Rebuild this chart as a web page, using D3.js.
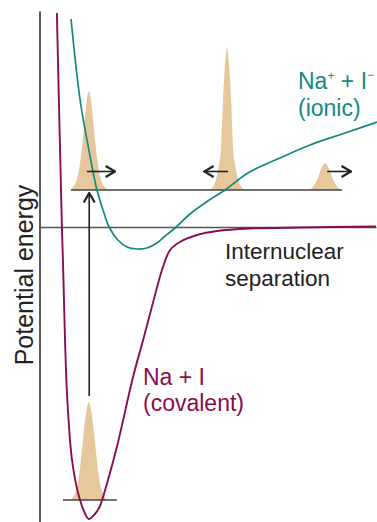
<!DOCTYPE html>
<html>
<head>
<meta charset="utf-8">
<script src="https://cdn.jsdelivr.net/npm/d3@7"></script>
<style>
  body { margin: 0; background: #fff; }
  svg { display: block; font-family: "Liberation Sans", Arial, sans-serif; }
</style>
</head>
<body>
<svg id="chart"></svg>
<script>
// Potential energy curves, [separation, energy]
const covalentCurve = [
  [0.53, 4.28], [0.68, 0], [0.71, -0.66], [0.83, -3.32], [0.98, -4.66],
  [1.16, -5.32], [1.36, -5.72], [1.48, -5.84], [1.66, -5.74], [1.81, -5.58],
  [1.90, -5.40], [2.31, -4.40], [2.79, -3.00], [3.09, -2.26], [3.38, -1.52],
  [3.65, -0.86], [3.89, -0.46], [4.18, -0.30], [4.69, -0.16], [5.28, -0.08],
  [6.26, -0.03], [7.74, -0.01], [10, 0.01]
];
const ionicCurve = [
  [0.95, 4.16], [1.22, 2.54], [1.48, 1.54], [1.72, 0.74], [1.90, 0.34],
  [2.08, 0], [2.34, -0.26], [2.61, -0.40], [2.91, -0.44], [3.20, -0.42],
  [3.50, -0.32], [3.74, -0.18], [4.04, -0.02], [4.48, 0.26], [5.01, 0.52],
  [5.52, 0.74], [6.20, 1.08], [7.15, 1.38], [8.04, 1.64], [9.08, 1.88],
  [10.03, 2.10]
];

// Vibrational levels: [start, end] separation and energy
const levelSpan = [[0.95, 8.99], [0.71, 2.31]];
const levelEnergy = [0.74, -5.46];

// Wavepackets: centre, base energy and profile [offset, height]
const packetCentre = [1.48, 5.58, 8.49, 1.48];
const packetBase = [0.74, 0.74, 0.74, -5.46];
const packetProfile = [
  [[-0.59, 0], [-0.47, 0.06], [-0.36, 0.20], [-0.27, 0.50], [-0.18, 1.00], [-0.09, 1.64], [0, 1.98],
   [0.09, 1.64], [0.18, 1.00], [0.27, 0.50], [0.36, 0.20], [0.47, 0.06], [0.62, 0]],
  [[-0.56, 0], [-0.45, 0.04], [-0.33, 0.20], [-0.24, 0.50], [-0.18, 0.80], [-0.12, 1.80], [-0.06, 2.50], [0, 2.84],
   [0.06, 2.50], [0.12, 1.80], [0.18, 0.80], [0.24, 0.50], [0.33, 0.20], [0.45, 0.04], [0.56, 0]],
  [[-0.47, 0], [-0.36, 0.06], [-0.24, 0.20], [-0.12, 0.42], [0, 0.54],
   [0.12, 0.42], [0.24, 0.20], [0.36, 0.06], [0.47, 0]],
  [[-0.53, 0], [-0.45, 0.08], [-0.36, 0.24], [-0.27, 0.60], [-0.18, 1.16], [-0.09, 1.70], [0, 1.96],
   [0.09, 1.70], [0.18, 1.16], [0.27, 0.60], [0.36, 0.24], [0.45, 0.08], [0.53, 0]]
];

// Arrows: [separation, energy] from -> to
const arrowFrom = [[1.42, 1.11], [5.61, 1.11], [8.55, 1.11], [1.49, -3.38]];
const arrowTo = [[2.26, 1.11], [4.90, 1.11], [9.26, 1.11], [1.49, 0.68]];

const W = 377, H = 522;
const teal = "#138a80", purple = "#8a0c52", tan = "#e6c89c", ink = "#222";

const svg = d3.select("#chart").attr("width", W).attr("height", H);

const x = d3.scaleLinear().domain([0, 10]).range([39, 376]);
const y = d3.scaleLinear().domain([-5.9, 4.32]).range([522, 11]);

// Arrow marker
svg.append("defs").append("marker")
  .attr("id", "head")
  .attr("viewBox", "0 0 12 14")
  .attr("refX", 11).attr("refY", 7)
  .attr("markerWidth", 12).attr("markerHeight", 14)
  .attr("markerUnits", "userSpaceOnUse")
  .attr("orient", "auto")
  .append("path")
  .attr("d", "M1.5,1.5 L11,7 L1.5,12.5")
  .attr("fill", "none")
  .attr("stroke", ink)
  .attr("stroke-width", 2.2);

// Wavepackets
const area = d3.area().curve(d3.curveMonotoneX);
svg.selectAll(".packet")
  .data(packetProfile)
  .enter()
  .append("path")
  .attr("class", "packet")
  .attr("fill", tan)
  .attr("d", (p, i) => area
    .x(d => x(packetCentre[i] + d[0]))
    .y0(y(packetBase[i]))
    .y1(d => y(packetBase[i] + d[1]))(p));

// Axes
svg.append("g")
  .attr("transform", `translate(${x(0) + 0.5},0)`)
  .call(d3.axisLeft(y).tickValues([]).tickSizeOuter(0))
  .select(".domain").attr("stroke", ink).attr("stroke-width", 1.5);

svg.append("g")
  .attr("transform", `translate(0,${y(0)})`)
  .call(d3.axisBottom(x).tickValues([]).tickSizeOuter(0))
  .select(".domain").attr("stroke", "#555").attr("stroke-width", 1.6);

// Levels
svg.selectAll(".level")
  .data(levelSpan)
  .enter()
  .append("line")
  .attr("class", "level")
  .attr("x1", d => x(d[0]))
  .attr("x2", d => x(d[1]))
  .attr("y1", (d, i) => y(levelEnergy[i]))
  .attr("y2", (d, i) => y(levelEnergy[i]))
  .attr("stroke", "#444")
  .attr("stroke-width", 1.6);

// Curves
const line = d3.line()
  .curve(d3.curveCatmullRom)
  .x(d => x(d[0]))
  .y(d => y(d[1]));

svg.append("path")
  .attr("d", line(ionicCurve))
  .attr("fill", "none")
  .attr("stroke", teal)
  .attr("stroke-width", 1.7);

svg.append("path")
  .attr("d", line(covalentCurve))
  .attr("fill", "none")
  .attr("stroke", purple)
  .attr("stroke-width", 1.9);

// Arrows
svg.selectAll(".arrow")
  .data(arrowFrom)
  .enter()
  .append("line")
  .attr("class", "arrow")
  .attr("x1", d => x(d[0]))
  .attr("y1", d => y(d[1]))
  .attr("x2", (d, i) => x(arrowTo[i][0]))
  .attr("y2", (d, i) => y(arrowTo[i][1]))
  .attr("stroke", ink)
  .attr("stroke-width", 1.6)
  .attr("marker-end", "url(#head)");

// Labels
const ionic = svg.append("text")
  .attr("x", 298).attr("y", 89)
  .attr("font-size", 23)
  .attr("fill", teal);
ionic.append("tspan").text("Na");
ionic.append("tspan").attr("font-size", 12).attr("dy", -9).text("+");
ionic.append("tspan").attr("dy", 9).text(" + I");
ionic.append("tspan").attr("font-size", 12).attr("dy", -10).text("−");

svg.append("text")
  .attr("x", 298).attr("y", 116)
  .attr("font-size", 23)
  .attr("fill", teal)
  .text("(ionic)");

svg.append("text")
  .attr("x", 143).attr("y", 385)
  .attr("font-size", 23)
  .attr("fill", purple)
  .text("Na + I");

svg.append("text")
  .attr("x", 143).attr("y", 411)
  .attr("font-size", 23)
  .attr("fill", purple)
  .text("(covalent)");

svg.append("text")
  .attr("x", 225).attr("y", 259)
  .attr("font-size", 22.5)
  .attr("fill", ink)
  .text("Internuclear");

svg.append("text")
  .attr("x", 225).attr("y", 286)
  .attr("font-size", 22.5)
  .attr("fill", ink)
  .text("separation");

svg.append("text")
  .attr("transform", "translate(33,275) rotate(-90)")
  .attr("text-anchor", "middle")
  .attr("font-size", 25)
  .attr("fill", ink)
  .text("Potential energy");
</script>
</body>
</html>
